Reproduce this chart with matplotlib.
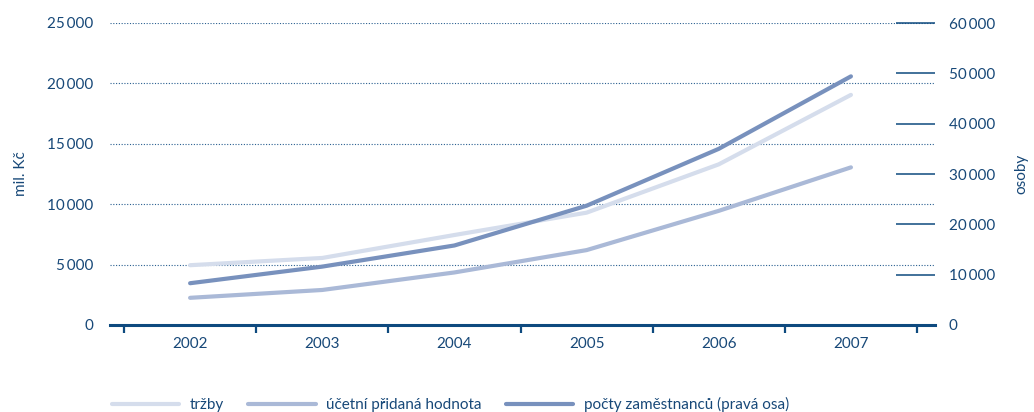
import matplotlib
matplotlib.use("Agg")
import matplotlib.pyplot as plt
from matplotlib.ticker import FuncFormatter, FixedLocator

plt.rcParams['font.family'] = ['Lato', 'DejaVu Sans']

years = ['2002', '2003', '2004', '2005', '2006', '2007']
trzby = [4950, 5550, 7450, 9300, 13300, 19050]
pridana = [2250, 2900, 4350, 6200, 9450, 13050]
zamestnanci = [8300, 11600, 15800, 23700, 35000, 49400]

labels = ['tržby', 'účetní přidaná hodnota', 'počty zaměstnanců (pravá osa)']
c_light = '#d5ddec'
c_mid = '#aab9d7'
c_dark = '#7891bd'
txt = '#174878'
axc = '#0e4a7f'

fig = plt.figure(figsize=(10.34, 4.12), dpi=100)
ax = fig.add_axes([110/1034, 1-325/412, (935-110)/1034, (325-23)/412])
ax2 = ax.twinx()

x = list(range(len(years)))
l1, = ax.plot(x, trzby, color=c_light, lw=3, solid_capstyle='round', zorder=3)
l2, = ax.plot(x, pridana, color=c_mid, lw=3, solid_capstyle='round', zorder=3)
l3, = ax2.plot(x, zamestnanci, color=c_dark, lw=3, solid_capstyle='round', zorder=3)

def fmt(v, pos):
    v = int(round(v))
    if v == 0:
        return '0'
    return f'{v:,}'.replace(',', '\u2009')

ax.set_xlim(-0.606, 5.636)
ax.set_ylim(0, 25000)
ax2.set_ylim(0, 60000)

ax.yaxis.set_major_locator(FixedLocator([0, 5000, 10000, 15000, 20000, 25000]))
ax.yaxis.set_major_formatter(FuncFormatter(fmt))
ax2.yaxis.set_major_locator(FixedLocator([0, 10000, 20000, 30000, 40000, 50000, 60000]))
ax2.yaxis.set_major_formatter(FuncFormatter(fmt))

for s in ['left', 'right', 'top']:
    ax.spines[s].set_visible(False)
    ax2.spines[s].set_visible(False)
ax2.spines['bottom'].set_visible(False)
ax.spines['bottom'].set_color(axc)
ax.spines['bottom'].set_linewidth(2.2)

ax.tick_params(axis='y', length=0, pad=12, labelcolor=txt, labelsize=11)
ax2.tick_params(axis='y', direction='in', length=28, width=1.1, color=axc,
                pad=10, labelcolor=txt, labelsize=11)

ax.set_xticks(x)
ax.set_xticklabels(years)
ax.set_xticks([i - 0.5 for i in range(len(years) + 1)], minor=True)
ax.tick_params(axis='x', which='major', length=0, pad=9, labelcolor=txt, labelsize=11)
ax.tick_params(axis='x', which='minor', direction='out', length=6, width=1.6, color=axc)

ax.yaxis.grid(True, linestyle=(0, (1, 1.5)), color='#2a5f90', linewidth=0.8)
ax.set_axisbelow(True)

ax.set_ylabel('mil. Kč', color=txt, fontsize=11, labelpad=14)
ax2.set_ylabel('osoby', color=txt, fontsize=11, labelpad=14)

leg = fig.legend([l1, l2, l3], labels, loc='lower left', bbox_to_anchor=(98/1034, -0.034),
                 ncol=3, frameon=False, handlelength=4.4, handletextpad=0.7,
                 columnspacing=1.6, fontsize=11)
for t in leg.get_texts():
    t.set_color(txt)

fig.savefig('out.png', dpi=100)
